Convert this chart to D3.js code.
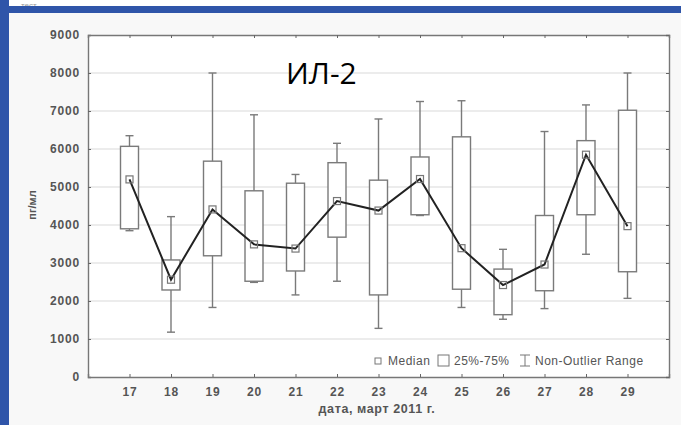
<!DOCTYPE html>
<html>
<head>
<meta charset="utf-8">
<script src="https://cdn.jsdelivr.net/npm/d3@7/dist/d3.min.js"></script>
<style>
  body { margin: 0; background: #fff; }
  svg { display: block; }
</style>
</head>
<body>
<svg id="chart" width="681" height="425"></svg>
<script>
// days of March 2011
var days = ['17', '18', '19', '20', '21', '22', '23', '24', '25', '26', '27', '28', '29'];
// non-outlier range and quartiles, pg/ml
var mins    = [3850, 1180, 1830, 2490, 2160, 2520, 1280, 4250, 1830, 1520, 1800, 3230, 2070];
var q1      = [3900, 2290, 3190, 2520, 2790, 3680, 2160, 4270, 2310, 1640, 2270, 4270, 2770];
var medians = [5200, 2560, 4410, 3490, 3380, 4630, 4380, 5210, 3390, 2420, 2960, 5850, 3970];
var q3      = [6070, 3080, 5680, 4900, 5100, 5640, 5180, 5790, 6320, 2840, 4250, 6220, 7020];
var maxs    = [6350, 4220, 8000, 6900, 5330, 6150, 6790, 7250, 7270, 3360, 6460, 7160, 8000];
var yTicks  = [0, 1000, 2000, 3000, 4000, 5000, 6000, 7000, 8000, 9000];

var data = days.map(function (d, i) {
    return { day: d, min: mins[i], q1: q1[i], med: medians[i], q3: q3[i], max: maxs[i] };
});

var svg = d3.select('#chart');
var pLeft = 88, pRight = 669, pTop = 35, pBottom = 377;

// page frame
svg.append('rect').attr('x', 0).attr('y', 0).attr('width', 681).attr('height', 425).attr('fill', '#f8f8f8');
svg.append('rect').attr('x', 0).attr('y', 0).attr('width', 681).attr('height', 7).attr('fill', '#fff');
svg.append('text').attr('x', 21).attr('y', 8).text('тест')
    .style('font-family', 'Arial, sans-serif').style('font-size', '8px').attr('fill', '#999');
svg.append('rect').attr('x', 0).attr('y', 6).attr('width', 681).attr('height', 7).attr('fill', '#2f55a9');
svg.append('rect').attr('x', 0).attr('y', 0).attr('width', 9).attr('height', 425).attr('fill', '#2f55a9');

var x = d3.scalePoint().domain(days).range([pLeft, pRight]).padding(1);
var y = d3.scaleLinear().domain([0, 9000]).range([pBottom, pTop]);
var boxW = 18;

svg.append('rect').attr('x', pLeft).attr('y', pTop).attr('width', pRight - pLeft).attr('height', pBottom - pTop)
    .attr('fill', '#fff');

// grid
svg.append('g').selectAll('line').data(yTicks.slice(1, -1)).enter().append('line')
    .attr('x1', pLeft).attr('x2', pRight)
    .attr('y1', d => y(d)).attr('y2', d => y(d))
    .attr('stroke', '#e6e6e6').attr('stroke-width', 1.6);

var axisFont = 'Arial, "Liberation Sans", sans-serif';

svg.append('g').attr('transform', 'translate(' + pLeft + ',0)')
    .call(d3.axisLeft(y).tickValues(yTicks).tickFormat(d3.format('d')).tickSize(-3).tickPadding(8));
svg.append('g').attr('transform', 'translate(0,' + pBottom + ')')
    .call(d3.axisBottom(x).tickSize(-3).tickPadding(10));
// mirrored ticks on top and right
svg.append('g').attr('transform', 'translate(0,' + pTop + ')')
    .call(d3.axisTop(x).tickSize(-3).tickFormat(''));
svg.append('g').attr('transform', 'translate(' + pRight + ',0)')
    .call(d3.axisRight(y).tickValues(yTicks).tickSize(-3).tickFormat(''));

svg.selectAll('.domain').attr('stroke', '#777').attr('stroke-width', 1.4);
svg.selectAll('.tick line').attr('stroke', '#666');
svg.selectAll('.tick text')
    .style('font-family', axisFont).style('font-size', '12px').style('font-weight', 'bold')
    .style('letter-spacing', '0.8px').attr('fill', '#555');

// whiskers and boxes
var g = svg.append('g');
var box = g.selectAll('.box').data(data).enter().append('g').attr('class', 'box');
box.append('line')
    .attr('x1', d => x(d.day)).attr('x2', d => x(d.day))
    .attr('y1', d => y(d.min)).attr('y2', d => y(d.max))
    .attr('stroke', '#7a7a7a').attr('stroke-width', 1.4);
box.append('line')
    .attr('x1', d => x(d.day) - 4).attr('x2', d => x(d.day) + 4)
    .attr('y1', d => y(d.max)).attr('y2', d => y(d.max))
    .attr('stroke', '#7a7a7a').attr('stroke-width', 1.4);
box.append('line')
    .attr('x1', d => x(d.day) - 4).attr('x2', d => x(d.day) + 4)
    .attr('y1', d => y(d.min)).attr('y2', d => y(d.min))
    .attr('stroke', '#7a7a7a').attr('stroke-width', 1.4);
box.append('rect')
    .attr('x', d => x(d.day) - boxW / 2).attr('width', boxW)
    .attr('y', d => y(d.q3)).attr('height', d => y(d.q1) - y(d.q3))
    .attr('fill', '#fff').attr('stroke', '#7a7a7a').attr('stroke-width', 1.4);

// median line
var line = d3.line().x(d => x(d.day)).y(d => y(d.med));
g.append('path').datum(data).attr('d', line)
    .attr('fill', 'none').attr('stroke', '#222').attr('stroke-width', 2);
g.selectAll('.med').data(data).enter().append('rect')
    .attr('x', d => x(d.day) - 3.5).attr('y', d => y(d.med) - 3.5)
    .attr('width', 7).attr('height', 7)
    .attr('fill', 'none').attr('stroke', '#777').attr('stroke-width', 1.2);

// title
svg.append('text').attr('x', 286).attr('y', 84).text('ИЛ-2')
    .style('font-family', '"Open Sans", sans-serif').style('font-size', '30px').attr('fill', '#000');

// axis labels
svg.append('text').attr('x', 377).attr('y', 413).attr('text-anchor', 'middle')
    .text('дата, март 2011 г.')
    .style('font-family', axisFont).style('font-size', '12.5px').style('font-weight', 'bold')
    .style('letter-spacing', '0.6px').attr('fill', '#555');
svg.append('text').attr('transform', 'translate(36,205) rotate(-90)').attr('text-anchor', 'middle')
    .text('пг/мл')
    .style('font-family', axisFont).style('font-size', '11px').style('font-weight', 'bold').attr('fill', '#555');

// legend
var leg = svg.append('g').style('font-family', axisFont).style('font-size', '12px')
    .style('letter-spacing', '0.5px').attr('fill', '#555');
leg.append('rect').attr('x', 375).attr('y', 358).attr('width', 6).attr('height', 6)
    .attr('fill', 'none').attr('stroke', '#777');
leg.append('text').attr('x', 388).attr('y', 365).text('Median');
leg.append('rect').attr('x', 438).attr('y', 355).attr('width', 11).attr('height', 11)
    .attr('fill', 'none').attr('stroke', '#777');
leg.append('text').attr('x', 454).attr('y', 365).text('25%-75%');
leg.append('path').attr('d', 'M520,355H530M525,355V366M520,366H530')
    .attr('fill', 'none').attr('stroke', '#777');
leg.append('text').attr('x', 535).attr('y', 365).text('Non-Outlier Range');
</script>
</body>
</html>
